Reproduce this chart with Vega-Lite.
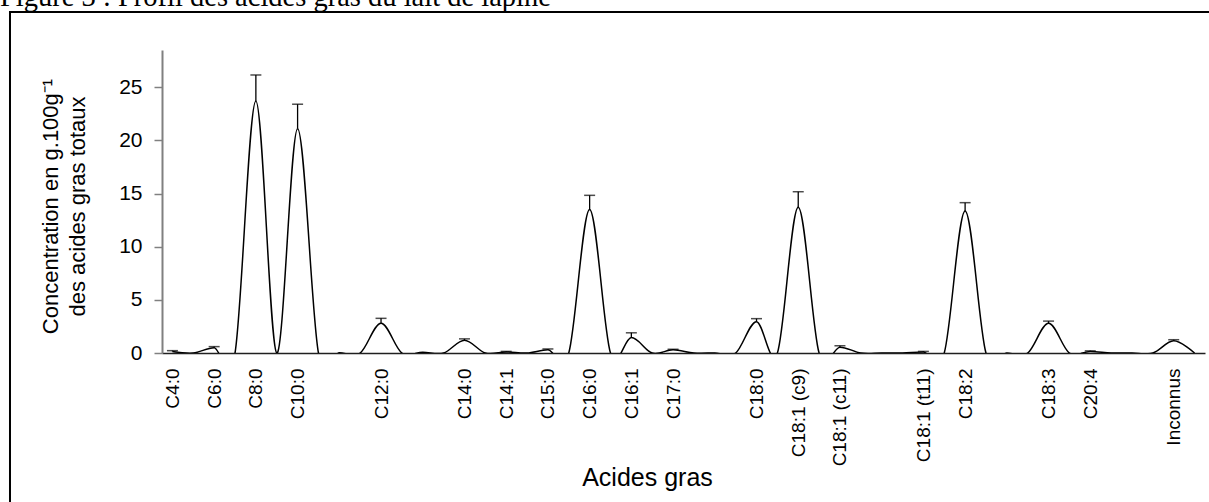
{
  "$schema": "https://vega.github.io/schema/vega-lite/v6.json",
  "width": 1043,
  "height": 303,
  "autosize": {"type": "none"},
  "padding": {"left": 162, "top": 50, "right": 4, "bottom": 149},
  "background": "white",
  "config": {
    "view": {"stroke": null},
    "axis": {"zindex": 1}
  },
  "data": {
    "values": [
      {"k": 0, "acide": "C4:0", "value": 0.15, "upper": 0.22},
      {"k": 1, "acide": "", "value": 0},
      {"k": 2, "acide": "C6:0", "value": 0.5, "upper": 0.6},
      {"k": 3, "acide": "", "value": 0},
      {"k": 4, "acide": "C8:0", "value": 23.7, "upper": 26.15},
      {"k": 5, "acide": "", "value": 0},
      {"k": 6, "acide": "C10:0", "value": 21.1, "upper": 23.4},
      {"k": 7, "acide": "", "value": 0},
      {"k": 8, "acide": "", "value": 0.03},
      {"k": 9, "acide": "", "value": 0},
      {"k": 10, "acide": "C12:0", "value": 2.8, "upper": 3.26},
      {"k": 11, "acide": "", "value": 0},
      {"k": 12, "acide": "", "value": 0.08},
      {"k": 13, "acide": "", "value": 0},
      {"k": 14, "acide": "C14:0", "value": 1.2, "upper": 1.33},
      {"k": 15, "acide": "", "value": 0},
      {"k": 16, "acide": "C14:1", "value": 0.1, "upper": 0.15},
      {"k": 17, "acide": "", "value": 0},
      {"k": 18, "acide": "C15:0", "value": 0.3, "upper": 0.38},
      {"k": 19, "acide": "", "value": 0},
      {"k": 20, "acide": "C16:0", "value": 13.5, "upper": 14.83},
      {"k": 21, "acide": "", "value": 0},
      {"k": 22, "acide": "C16:1", "value": 1.45, "upper": 1.9},
      {"k": 23, "acide": "", "value": 0},
      {"k": 24, "acide": "C17:0", "value": 0.3, "upper": 0.35},
      {"k": 25, "acide": "", "value": 0},
      {"k": 26, "acide": "", "value": 0},
      {"k": 27, "acide": "", "value": 0},
      {"k": 28, "acide": "C18:0", "value": 2.95, "upper": 3.23},
      {"k": 29, "acide": "", "value": 0},
      {"k": 30, "acide": "C18:1 (c9)", "value": 13.7, "upper": 15.17},
      {"k": 31, "acide": "", "value": 0},
      {"k": 32, "acide": "C18:1 (c11)", "value": 0.55, "upper": 0.68},
      {"k": 33, "acide": "", "value": 0},
      {"k": 34, "acide": "", "value": 0},
      {"k": 35, "acide": "", "value": 0},
      {"k": 36, "acide": "C18:1 (t11)", "value": 0.1, "upper": 0.15},
      {"k": 37, "acide": "", "value": 0},
      {"k": 38, "acide": "C18:2", "value": 13.35, "upper": 14.14},
      {"k": 39, "acide": "", "value": 0},
      {"k": 40, "acide": "", "value": 0},
      {"k": 41, "acide": "", "value": 0},
      {"k": 42, "acide": "C18:3", "value": 2.8, "upper": 3.0},
      {"k": 43, "acide": "", "value": 0},
      {"k": 44, "acide": "C20:4", "value": 0.15, "upper": 0.2},
      {"k": 45, "acide": "", "value": 0},
      {"k": 46, "acide": "", "value": 0},
      {"k": 47, "acide": "", "value": 0},
      {"k": 48, "acide": "Inconnus", "value": 1.15, "upper": 1.25},
      {"k": 49, "acide": "", "value": 0}
    ]
  },
  "layer": [
    {
      "mark": {"type": "line", "interpolate": "cardinal", "tension": 0, "color": "black", "strokeWidth": 1.5, "clip": true},
      "encoding": {
        "x": {
          "field": "k",
          "type": "quantitative",
          "scale": {"domain": [-0.5, 49.5], "nice": false, "zero": false},
          "axis": {
            "values": [0, 2, 4, 6, 10, 14, 16, 18, 20, 22, 24, 28, 30, 32, 36, 38, 42, 44, 48],
            "domain": true,
            "domainColor": "#202020",
            "domainWidth": 1.5,
            "ticks": false,
            "grid": false,
            "labelAngle": -90,
            "labelAlign": "right",
            "labelBaseline": "middle",
            "labelPadding": 15,
            "labelFont": "Liberation Sans",
            "labelFontSize": 19,
            "labelColor": "black",
            "labelOverlap": false,
            "labelFlush": false,
            "labelBound": false,
            "labelExpr": "['C4:0','','C6:0','','C8:0','','C10:0','','','','C12:0','','','','C14:0','','C14:1','','C15:0','','C16:0','','C16:1','','C17:0','','','','C18:0','','C18:1 (c9)','','C18:1 (c11)','','','','C18:1 (t11)','','C18:2','','','','C18:3','','C20:4','','','','Inconnus',''][datum.value]",
            "title": "Acides gras",
            "titleFont": "Liberation Sans",
            "titleFontSize": 25,
            "titleFontWeight": "normal",
            "titleColor": "black",
            "titleX": 485,
            "titleY": 132,
            "titleAlign": "center",
            "titleBaseline": "alphabetic"
          }
        },
        "y": {
          "field": "value",
          "type": "quantitative",
          "scale": {"domain": [0, 28.5], "nice": false, "zero": false},
          "axis": {
            "values": [0, 5, 10, 15, 20, 25],
            "domain": true,
            "domainColor": "#808080",
            "domainWidth": 2,
            "grid": false,
            "tickSize": 8,
            "tickColor": "#808080",
            "tickWidth": 1.5,
            "labelFont": "Liberation Sans",
            "labelFontSize": 21,
            "labelColor": "black",
            "labelPadding": 12,
            "title": ["Concentration en g.100g⁻¹", "des acides gras totaux"],
            "titleFont": "Liberation Sans",
            "titleFontSize": 22,
            "titleFontWeight": "normal",
            "titleColor": "black",
            "titleLineHeight": 27,
            "titleAngle": -90,
            "titleAlign": "center",
            "titleBaseline": "alphabetic",
            "titleX": -105,
            "titleY": 156
          }
        }
      }
    },
    {
      "data": {"values": [{"o": 1}]},
      "mark": {"type": "rect", "fill": null, "fillOpacity": 0, "stroke": "black", "strokeWidth": 2, "clip": false},
      "encoding": {
        "x": {"datum": -7.787, "type": "quantitative"},
        "x2": {"datum": 60},
        "y": {"datum": 32.07, "type": "quantitative"},
        "y2": {"datum": -20}
      }
    },
    {
      "data": {"values": [{"titre": "Figure 3 : Profil des acides gras du lait de lapine"}]},
      "mark": {"type": "text", "align": "left", "baseline": "alphabetic", "font": "Liberation Serif", "fontSize": 28.5, "color": "black", "clip": false},
      "encoding": {
        "x": {"datum": -8.266, "type": "quantitative"},
        "y": {"datum": 32.64, "type": "quantitative"},
        "text": {"field": "titre"}
      }
    },
    {
      "transform": [{"filter": "isValid(datum.upper)"}],
      "mark": {"type": "rule", "color": "black", "strokeWidth": 1.3},
      "encoding": {
        "x": {"field": "k", "type": "quantitative"},
        "y": {"field": "value", "type": "quantitative"},
        "y2": {"field": "upper"}
      }
    },
    {
      "transform": [{"filter": "isValid(datum.upper)"}],
      "mark": {"type": "tick", "orient": "horizontal", "color": "black", "size": 11, "thickness": 1.5},
      "encoding": {
        "x": {"field": "k", "type": "quantitative"},
        "y": {"field": "upper", "type": "quantitative"}
      }
    }
  ]
}
